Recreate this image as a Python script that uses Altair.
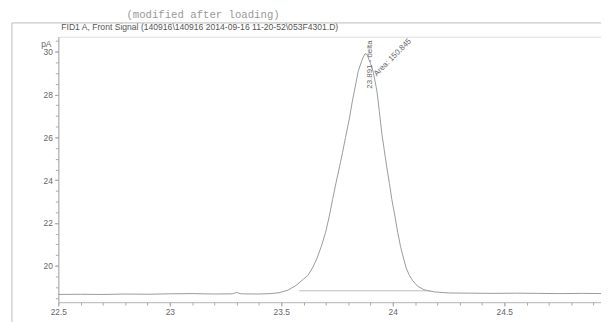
import altair as alt
import pandas as pd

# Retention time (min) and signal (pA)
times = [22.50, 22.60, 22.70, 22.80, 22.90, 23.00, 23.10, 23.20, 23.28, 23.30,
         23.32, 23.40, 23.45, 23.49, 23.53, 23.566, 23.60, 23.619, 23.64, 23.659,
         23.68, 23.699, 23.715, 23.730, 23.745, 23.761, 23.775, 23.788, 23.805, 23.819,
         23.835, 23.845, 23.86, 23.868, 23.876, 23.885, 23.90, 23.912, 23.929, 23.94,
         23.951, 23.962, 23.973, 23.985, 23.996, 24.01, 24.022, 24.035, 24.049, 24.06,
         24.075, 24.09, 24.111, 24.14, 24.186, 24.25, 24.35, 24.45, 24.55, 24.65,
         24.75, 24.85, 24.94]
signal = [18.66, 18.67, 18.66, 18.68, 18.67, 18.69, 18.70, 18.68, 18.69, 18.75,
          18.69, 18.68, 18.70, 18.74, 18.86, 19.08, 19.38, 19.54, 19.90, 20.32,
          20.92, 21.57, 22.30, 23.09, 23.85, 24.61, 25.30, 25.99, 26.85, 27.70,
          28.55, 29.08, 29.55, 29.75, 29.91, 29.86, 29.45, 29.08, 28.16, 27.20,
          26.18, 25.40, 24.61, 23.85, 23.09, 22.30, 21.57, 20.90, 20.32, 19.90,
          19.54, 19.30, 19.05, 18.88, 18.78, 18.73, 18.72, 18.71, 18.72, 18.71,
          18.70, 18.71, 18.70]

baseline_t = [23.58, 24.17]
baseline_v = [18.83, 18.83]

peak_rt_label = ["23.891 - delta"]
peak_rt_pos = [(23.898, 29.40)]
peak_area_label = ["Area: 150.845"]
peak_area_pos = [(24.0, 29.72)]

x_major = [22.5, 23.0, 23.5, 24.0, 24.5]
x_minor = [round(22.5 + 0.1 * i, 1) for i in range(25)]
y_major = [20, 22, 24, 26, 28, 30]
y_minor = [18.5 + 0.5 * i for i in range(25)]

title_text = "FID1 A, Front Signal (140916\\140916 2014-09-16 11-20-52\\053F4301.D)"
note_text = "(modified after loading)"

GRAY = "#999999"
TXT = "#666666"
FONT = "Liberation Sans"

trace = pd.DataFrame({"t": times, "v": signal})
base = pd.DataFrame({"t": baseline_t, "v": baseline_v})
rt_df = pd.DataFrame({"t": [p[0] for p in peak_rt_pos], "v": [p[1] for p in peak_rt_pos], "lab": peak_rt_label})
ar_df = pd.DataFrame({"t": [p[0] for p in peak_area_pos], "v": [p[1] for p in peak_area_pos], "lab": peak_area_label})

xscale = alt.Scale(domain=[22.5, 24.934], nice=False, zero=False)
yscale = alt.Scale(domain=[18.3, 30.7], nice=False, zero=False)

x_axis_major = alt.Axis(values=x_major, title=None, grid=False, orient="bottom", format="~g",
                        labelFontSize=8.5, labelColor=TXT, labelFont=FONT,
                        domainColor="#bbbbbb", tickColor="#aaaaaa", tickSize=4,
                        labelPadding=2, labelFlush=False)
x_axis_minor = alt.Axis(values=x_minor, title=None, grid=False, orient="bottom",
                        labels=False, domain=False, tickColor="#aaaaaa", tickSize=3)
y_axis_major = alt.Axis(values=y_major, title=None, grid=False, orient="left",
                        labelFontSize=8.5, labelColor=TXT, labelFont=FONT,
                        domainColor="#aaaaaa", tickColor="#aaaaaa", tickSize=4,
                        labelPadding=2)
y_axis_minor = alt.Axis(values=y_minor, title=None, grid=False, orient="left",
                        labels=False, domain=False, tickColor="#aaaaaa", tickSize=3)

line = alt.Chart(trace).mark_line(color=GRAY, strokeWidth=1, clip=True).encode(
    x=alt.X("t:Q", scale=xscale, axis=x_axis_major),
    y=alt.Y("v:Q", scale=yscale, axis=y_axis_major),
)

minor = alt.Chart(trace).mark_point(opacity=0).encode(
    x=alt.X("t:Q", scale=xscale, axis=x_axis_minor),
    y=alt.Y("v:Q", scale=yscale, axis=y_axis_minor),
)

bl = alt.Chart(base).mark_line(color="#aaaaaa", strokeWidth=0.8).encode(
    x=alt.X("t:Q", scale=xscale, axis=None), y=alt.Y("v:Q", scale=yscale, axis=None))

rt_txt = alt.Chart(rt_df).mark_text(angle=270, fontSize=8, color=TXT, font=FONT,
                                    align="center", baseline="middle").encode(
    x=alt.X("t:Q", scale=xscale, axis=None), y=alt.Y("v:Q", scale=yscale, axis=None), text="lab:N")

ar_txt = alt.Chart(ar_df).mark_text(angle=315, fontSize=8, color=TXT, font=FONT,
                                    align="center", baseline="middle").encode(
    x=alt.X("t:Q", scale=xscale, axis=None), y=alt.Y("v:Q", scale=yscale, axis=None), text="lab:N")

title = alt.Chart(pd.DataFrame({"s": [title_text]})).mark_text(
    fontSize=8.7, color="#555555", font=FONT, align="left", baseline="middle").encode(
    x=alt.value(3), y=alt.value(-10), text="s:N")

note = alt.Chart(pd.DataFrame({"s": [note_text]})).mark_text(
    fontSize=10.8, color="#999999", font="Liberation Mono", align="left", baseline="middle").encode(
    x=alt.value(69), y=alt.value(-22), text="s:N")

unit = alt.Chart(pd.DataFrame({"s": ["pA"]})).mark_text(
    fontSize=8.5, color=TXT, font=FONT, align="right", baseline="middle").encode(
    x=alt.value(-7), y=alt.value(7), text="s:N")

frame_left = alt.Chart(pd.DataFrame({"a": [0]})).mark_rule(color="#bbbbbb", strokeWidth=1).encode(
    x=alt.value(-47), y=alt.value(-14), y2=alt.value(300))
frame_top = alt.Chart(pd.DataFrame({"a": [0]})).mark_rule(color="#bbbbbb", strokeWidth=1).encode(
    x=alt.value(-47), x2=alt.value(560), y=alt.value(-14))

chart = alt.layer(line, minor, bl, rt_txt, ar_txt, title, note, unit, frame_left, frame_top).resolve_axis(
    x="independent", y="independent"
).properties(
    width=550, height=269,
    autosize=alt.AutoSizeParams(type="none"),
    padding={"left": 51, "top": 27, "right": 0, "bottom": 20},
).configure_view(stroke=None).configure(background="white")

chart.save("out.html", embed_options={"renderer": "svg", "actions": False})
